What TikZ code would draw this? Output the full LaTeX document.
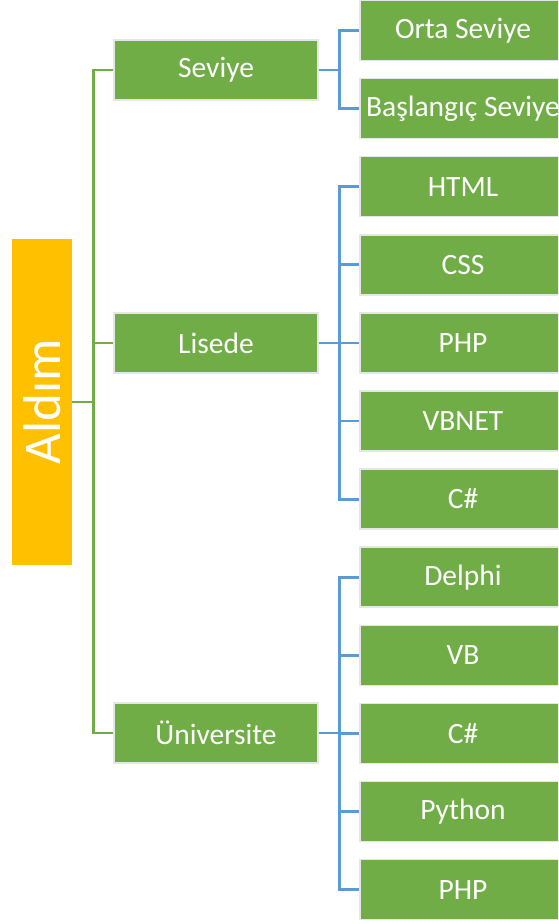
\documentclass[tikz,border=0pt]{standalone}
\usepackage{fontspec}
\setmainfont{Carlito}
\definecolor{boxgreen}{HTML}{70AD47}
\definecolor{rootorange}{HTML}{FFC000}
\definecolor{lineblue}{HTML}{5B9BD5}
\definecolor{rimgray}{HTML}{E6E6E6}
\begin{document}
\begin{tikzpicture}[x=1pt,y=-1pt,
  gbox/.style={fill=boxgreen, draw=rimgray, line width=1.5pt, text=white,
    minimum height=60pt, inner sep=0pt, font=\fontsize{29.5}{34}\selectfont},
  midbox/.style={gbox, minimum width=204pt},
  leafbox/.style={gbox, minimum width=206pt},
  gline/.style={draw=boxgreen, line width=2.5pt},
  bline/.style={draw=lineblue, line width=2.8pt}]
\useasboundingbox (0,0) rectangle (558,924);
\clip (0,0) rectangle (558,924);
\fill[white] (0,0) rectangle (558,924);
% root
\node[fill=rootorange, minimum width=60pt, minimum height=326pt, inner sep=0pt] (root) at (42,402) {};
\node[rotate=90, text=white, font=\fontsize{53}{60}\selectfont] (roottext) at (root.center) {Aldım};
% middle
\node[midbox] (sev) at (216,70) {Seviye};
\node[midbox] (lis) at (216,343) {Lisede};
\node[midbox] (uni) at (216,733) {Üniversite};
% leaves
\node[leafbox] (orta) at (463,30.5) {\makebox[0pt]{Orta Seviye}};
\node[leafbox] (basl) at (463,108.6) {\makebox[0pt]{Başlangıç Seviye}};
\node[leafbox] (html) at (463,186.7) {\makebox[0pt]{HTML}};
\node[leafbox] (css) at (463,264.8) {\makebox[0pt]{CSS}};
\node[leafbox] (php1) at (463,342.9) {\makebox[0pt]{PHP}};
\node[leafbox] (vbnet) at (463,421) {\makebox[0pt]{VBNET}};
\node[leafbox] (cs1) at (463,499.1) {\makebox[0pt]{C\#}};
\node[leafbox] (delphi) at (463,577.2) {\makebox[0pt]{Delphi}};
\node[leafbox] (vb) at (463,655.3) {\makebox[0pt]{VB}};
\node[leafbox] (cs2) at (463,733.4) {\makebox[0pt]{C\#}};
\node[leafbox] (python) at (463,811.5) {\makebox[0pt]{Python}};
\node[leafbox] (php2) at (463,889.6) {\makebox[0pt]{PHP}};
% green connectors
\draw[gline] (sev.west) -- ++(-20,0) |- (uni.west);
\draw[gline] (lis.west) -- ++(-20,0);
\draw[gline] (root.east) -- ++(22,0);
% blue connectors
\draw[bline] (sev.east) -- ++(22,0);
\draw[bline] (orta.west) -- ++(-20,0) |- (basl.west);
\draw[bline] (lis.east) -- ++(22,0);
\draw[bline] (html.west) -- ++(-20,0) |- (cs1.west);
\draw[bline] (css.west) -- ++(-20,0);
\draw[bline] (php1.west) -- ++(-20,0);
\draw[bline] (vbnet.west) -- ++(-20,0);
\draw[bline] (uni.east) -- ++(22,0);
\draw[bline] (delphi.west) -- ++(-20,0) |- (php2.west);
\draw[bline] (vb.west) -- ++(-20,0);
\draw[bline] (cs2.west) -- ++(-20,0);
\draw[bline] (python.west) -- ++(-20,0);
\end{tikzpicture}
\end{document}
